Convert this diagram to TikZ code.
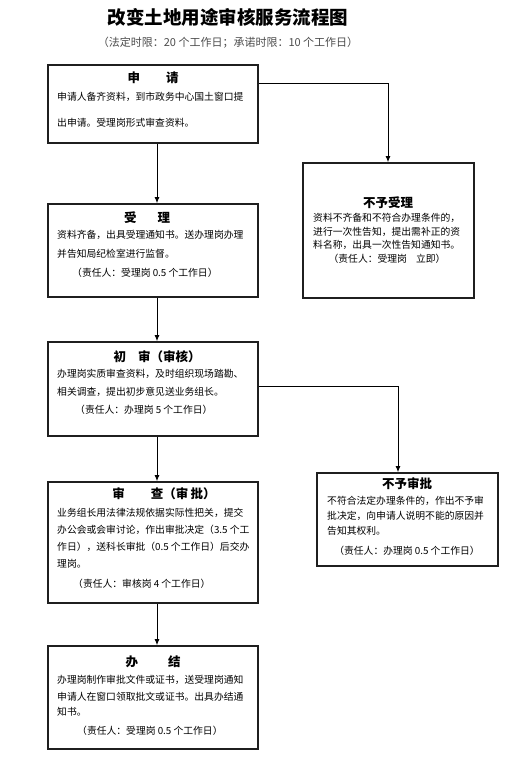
\documentclass[tikz,border=0pt]{standalone}
\usepackage{fontspec}
\setmainfont{Noto Sans CJK SC}
\usetikzlibrary{arrows.meta}
\begin{document}
\begin{tikzpicture}[x=1pt,y=-1pt,
  box/.style={draw=black!88,line width=1.8pt,rectangle,inner sep=0pt},
  ttl/.style={font=\fontsize{12.5}{14}\selectfont\bfseries,inner sep=0pt},
  txt/.style={font=\fontsize{9.8}{11}\selectfont,anchor=west,inner sep=0pt},
  arr/.style={draw=black,line width=0.8pt,-{Latex[length=6pt,width=5pt]}},
  ]
\useasboundingbox[fill=white] (0,0) rectangle (520,763);
% title
\node[font=\fontsize{18.5}{20}\selectfont\bfseries,inner sep=0pt] (title) at (228,17) {改变土地用途审核服务流程图};
\node[font=\fontsize{11}{12}\selectfont,text=black!70,inner sep=0pt] (sub) at (228,43) {（法定时限：20 个工作日；承诺时限：10 个工作日）};

% boxes
\node[box,minimum width=210pt,minimum height=78pt] (b1) at (153,104) {};
\node[box,minimum width=210pt,minimum height=93pt] (b2) at (153,250.5) {};
\node[box,minimum width=210pt,minimum height=94pt] (b3) at (153,389) {};
\node[box,minimum width=210pt,minimum height=121pt] (b4) at (153,542.5) {};
\node[box,minimum width=210pt,minimum height=103pt] (b5) at (153,697.5) {};
\node[box,minimum width=171pt,minimum height=135pt] (r1) at (388.5,230.5) {};
\node[box,minimum width=181pt,minimum height=93pt] (r2) at (407.5,519.5) {};

% box 1
\node[ttl] (b1t) at (153,78) {申\hspace{26pt}请};
\node[txt] (b1a) at (57,97) {申请人备齐资料，到市政务中心国土窗口提};
\node[txt] (b1b) at (57,123) {出申请。受理岗形式审查资料。};
% box 2
\node[ttl] (b2t) at (147,218) {受\hspace{21pt}理};
\node[txt] (b2a) at (57,235) {资料齐备，出具受理通知书。送办理岗办理};
\node[txt] (b2b) at (57,254) {并告知局纪检室进行监督。};
\node[txt] (b2c) at (72,273) {（责任人：受理岗 0.5 个工作日）};
% box 3
\node[ttl] (b3t) at (157,357) {初\hspace{12pt}审（审核）};
\node[txt] (b3a) at (57,374) {办理岗实质审查资料，及时组织现场踏勘、};
\node[txt] (b3b) at (57,392) {相关调查，提出初步意见送业务组长。};
\node[txt] (b3c) at (75,410) {（责任人：办理岗 5 个工作日）};
% box 4
\node[ttl] (b4t) at (164,494) {审\hspace{26pt}查（审\,批）};
\node[txt] (b4a) at (57,513) {业务组长用法律法规依据实际性把关，提交};
\node[txt] (b4b) at (57,530) {办公会或会审讨论，作出审批决定（3.5 个工};
\node[txt] (b4c) at (57,547) {作日），送科长审批（0.5 个工作日）后交办};
\node[txt] (b4d) at (57,564) {理岗。};
\node[txt] (b4e) at (73,584) {（责任人：审核岗 4 个工作日）};
% box 5
\node[ttl] (b5t) at (153,662) {办\hspace{30pt}结};
\node[txt] (b5a) at (57,680) {办理岗制作审批文件或证书，送受理岗通知};
\node[txt] (b5b) at (57,697) {申请人在窗口领取批文或证书。出具办结通};
\node[txt] (b5c) at (57,712) {知书。};
\node[txt] (b5d) at (77,731) {（责任人：受理岗 0.5 个工作日）};
% right 1
\node[ttl] (r1t) at (388,203) {不予受理};
\node[txt] (r1a) at (313,218) {资料不齐备和不符合办理条件的，};
\node[txt] (r1b) at (313,232) {进行一次性告知，提出需补正的资};
\node[txt] (r1c) at (313,245) {料名称，出具一次性告知通知书。};
\node[txt,anchor=center] (r1d) at (387,259) {（责任人：受理岗\hspace{9pt}立即）};
% right 2
\node[ttl] (r2t) at (407,484) {不予审批};
\node[txt] (r2a) at (327,501) {不符合法定办理条件的，作出不予审};
\node[txt] (r2b) at (327,516) {批决定，向申请人说明不能的原因并};
\node[txt] (r2c) at (327,531) {告知其权利。};
\node[txt,anchor=center] (r2d) at (407,551) {（责任人：办理岗 0.5 个工作日）};

% connectors
\coordinate (ax) at (157,0);
\coordinate (rx1) at (388,0);
\coordinate (rx2) at (398,0);
\coordinate (y1) at (0,83);
\coordinate (y3) at (0,386);
\draw[arr] (b1.south -| ax) -- (b2.north -| ax);
\draw[arr] (b2.south -| ax) -- (b3.north -| ax);
\draw[arr] (b3.south -| ax) -- (b4.north -| ax);
\draw[arr] (b4.south -| ax) -- (b5.north -| ax);
\draw[arr] (b1.east |- y1) -- (rx1 |- y1) -- (r1.north -| rx1);
\draw[arr] (b3.east |- y3) -- (rx2 |- y3) -- (r2.north -| rx2);
\end{tikzpicture}
\end{document}
